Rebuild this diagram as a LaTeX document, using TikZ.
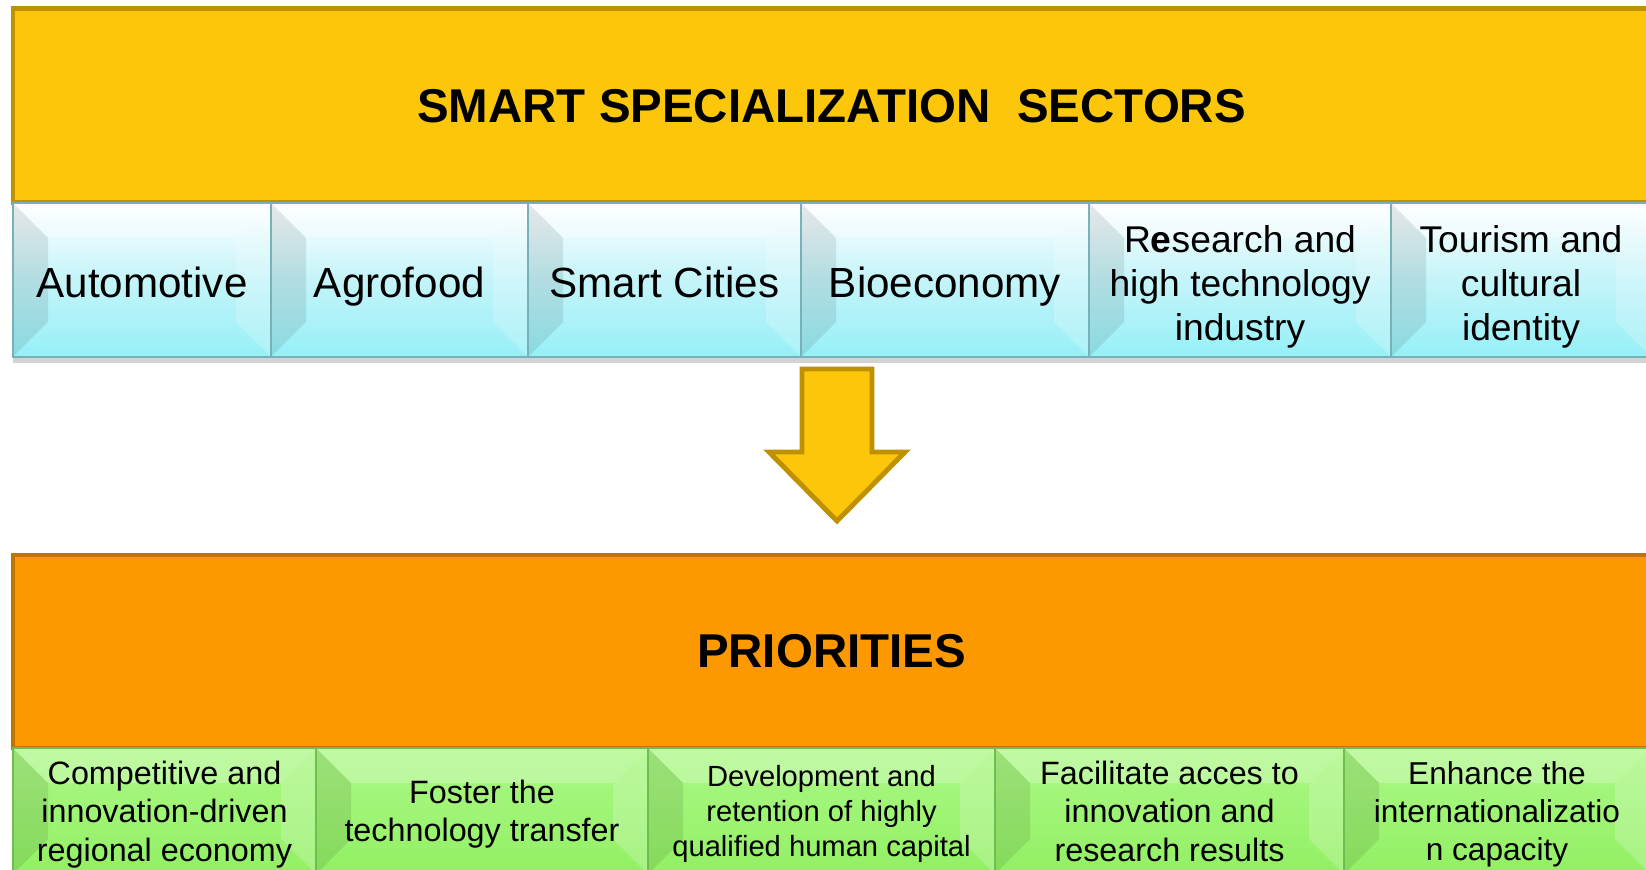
\documentclass[tikz,border=0pt]{standalone}
\usepackage{fontspec}
\setmainfont{Liberation Sans}
\usepackage{tikz}
\usetikzlibrary{positioning,shadows}
\definecolor{barYellow}{RGB}{252,198,10}
\definecolor{barYellowEdge}{RGB}{191,144,0}
\definecolor{barOrange}{RGB}{252,153,0}
\definecolor{barOrangeEdge}{RGB}{191,118,0}
\definecolor{cyanMid}{RGB}{196,244,249}
\definecolor{cyanBot}{RGB}{150,240,248}
\definecolor{cyanEdge}{RGB}{120,178,184}
\definecolor{greenTop}{RGB}{172,248,134}
\definecolor{greenBot}{RGB}{146,240,100}
\definecolor{greenEdge}{RGB}{112,190,82}
\tikzset{
  titlebar/.style={rectangle, minimum width=16.37cm, inner sep=0pt, outer sep=0pt, line width=1.4pt,
                   font=\fontsize{13.5}{16}\selectfont\bfseries},
  yellowbar/.style={titlebar, draw=barYellowEdge, fill=barYellow, minimum height=1.945cm},
  orangebar/.style={titlebar, draw=barOrangeEdge, fill=barOrange, minimum height=1.93cm},
  bevel/.style={path picture={
      \fill[black, opacity=.09] (path picture bounding box.north west) -- ++(#1,-#1)
        -- ([shift={(#1,#1)}]path picture bounding box.south west) -- (path picture bounding box.south west) -- cycle;
      \fill[white, opacity=.20] (path picture bounding box.north east) -- ++(-#1,-#1)
        -- ([shift={(-#1,#1)}]path picture bounding box.south east) -- (path picture bounding box.south east) -- cycle;
      \fill[white, opacity=.25] (path picture bounding box.north west) -- ++(#1,-#1)
        -- ([shift={(-#1,-#1)}]path picture bounding box.north east) -- (path picture bounding box.north east) -- cycle;
  }},
  sector/.style={rectangle, bevel=0.35, draw=cyanEdge, line width=.5pt, top color=white, bottom color=cyanBot,
                 middle color=cyanMid, minimum height=1.54cm, inner sep=0pt, outer sep=0pt, align=center,
                 font=\fontsize{12}{14}\selectfont, text height=0.35cm, text depth=0pt,
                 drop shadow={shadow xshift=0pt, shadow yshift=-0.6mm, opacity=.35}},
  sectorsmall/.style={sector, font=\fontsize{10.6}{12.5}\selectfont, text height=1.21cm},
  priority/.style={rectangle, bevel=0.35, draw=greenEdge, line width=.5pt, top color=greenTop, bottom color=greenBot,
                   minimum height=1.26cm, inner sep=0pt, outer sep=0pt, align=center, text depth=0pt,
                   font=\fontsize{9.2}{10.9}\selectfont},
  blockarrow/.style={draw=barYellowEdge, fill=barYellow, line width=1.4pt, line join=miter},
}
\begin{document}
\begin{tikzpicture}[node distance=0pt]
  \useasboundingbox (0,0) rectangle (16.46,8.69);
  \clip (0,0) rectangle (16.46,8.69);

  \node[yellowbar] (sss) at (8.315,7.633) {SMART SPECIALIZATION\ \ SECTORS};

  \node[sector, minimum width=2.58cm, anchor=north west] (sec1) at (0.13,6.66) {Automotive};
  \node[sector, minimum width=2.57cm] (sec2) [right=of sec1] {Agrofood};
  \node[sector, minimum width=2.73cm] (sec3) [right=of sec2] {Smart Cities};
  \node[sector, minimum width=2.88cm] (sec4) [right=of sec3] {Bioeconomy};
  \node[sectorsmall, minimum width=3.02cm] (sec5) [right=of sec4] {R\textbf{e}search and\\high technology\\industry};
  \node[sectorsmall, minimum width=2.60cm] (sec6) [right=of sec5] {Tourism and\\cultural\\identity};

  \coordinate (arrtop) at (8.37,5.00);
  \coordinate (tip) at (8.37,3.48);
  \draw[blockarrow] ([xshift=-3.5mm]arrtop) -- ([xshift=3.5mm]arrtop) -- ++(0,-8.3mm) -- ++(3.3mm,0)
    -- (tip) -- ++(-6.8mm,6.9mm) -- ++(3.3mm,0) -- cycle;

  \node[orangebar] (prio) at (8.315,2.175) {PRIORITIES};

  \node[priority, minimum width=3.03cm, anchor=north west] (goal1) at (0.13,1.21) {Competitive and\\innovation-driven\\regional economy};
  \node[priority, minimum width=3.32cm] (goal2) [right=of goal1] {Foster the\\technology transfer};
  \node[priority, minimum width=3.47cm, font=\fontsize{8.3}{9.9}\selectfont] (goal3) [right=of goal2] {Development and\\retention of highly\\qualified human capital};
  \node[priority, minimum width=3.49cm] (goal4) [right=of goal3] {Facilitate acces to\\innovation and\\research results};
  \node[priority, minimum width=3.06cm, font=\fontsize{9}{10.8}\selectfont] (goal5) [right=of goal4] {Enhance the\\internationalizatio\\n capacity};
\end{tikzpicture}
\end{document}
